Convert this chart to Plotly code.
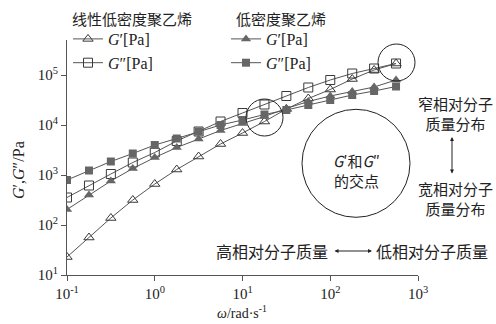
import plotly.graph_objects as go

# angular frequency (rad/s)
omega = [0.1, 0.178, 0.316, 0.562, 1.0, 1.78, 3.16, 5.62, 10.0, 17.8, 31.6, 56.2, 100.0, 178.0, 316.0, 562.0]

# log10 of moduli
lldpe_gp_log = [1.36, 1.75, 2.14, 2.50, 2.82, 3.11, 3.37, 3.62, 3.84, 4.07, 4.32, 4.53, 4.71, 4.92, 5.10, 5.23]
lldpe_gpp_log = [2.55, 2.79, 3.02, 3.25, 3.45, 3.68, 3.87, 4.07, 4.24, 4.41, 4.58, 4.75, 4.90, 5.03, 5.13, 5.23]
ldpe_gp_log = [2.31, 2.60, 2.88, 3.13, 3.35, 3.55, 3.72, 3.89, 4.03, 4.17, 4.33, 4.47, 4.58, 4.67, 4.76, 4.90]
ldpe_gpp_log = [2.90, 3.09, 3.27, 3.43, 3.60, 3.73, 3.87, 4.00, 4.10, 4.21, 4.30, 4.40, 4.50, 4.60, 4.68, 4.77]

lldpe_gp = [10 ** v for v in lldpe_gp_log]
lldpe_gpp = [10 ** v for v in lldpe_gpp_log]
ldpe_gp = [10 ** v for v in ldpe_gp_log]
ldpe_gpp = [10 ** v for v in ldpe_gpp_log]

x_tickvals = [0.1, 1, 10, 100, 1000]
x_ticktext = ["10<sup>-1</sup>", "10<sup>0</sup>", "10<sup>1</sup>", "10<sup>2</sup>", "10<sup>3</sup>"]
y_tickvals = [10, 100, 1000, 10000, 100000]
y_ticktext = ["10<sup>1</sup>", "10<sup>2</sup>", "10<sup>3</sup>", "10<sup>4</sup>", "10<sup>5</sup>"]

FONT = "Liberation Serif, Noto Sans CJK SC, serif"
CJK = "Noto Sans CJK SC, Liberation Serif, serif"
LINE = "#555555"

# plot-area pixel geometry (for placing decorations in paper coordinates)
PL, PR, PT, PB = 67, 418, 40, 275
W, H = PR - PL, PB - PT


def px(xp):
    return (xp - PL) / W


def py(yp):
    return (PB - yp) / H


fig = go.Figure()

fig.add_trace(go.Scatter(x=omega, y=lldpe_gp, mode="lines+markers", name="<i>G</i>′[Pa]",
                         line=dict(color=LINE, width=1),
                         marker=dict(symbol="triangle-up-open", size=9, color="#3a3a3a", line=dict(width=1)),
                         legend="legend"))
fig.add_trace(go.Scatter(x=omega, y=lldpe_gpp, mode="lines+markers", name="<i>G</i>″[Pa]",
                         line=dict(color=LINE, width=1),
                         marker=dict(symbol="square-open", size=9, color="#3a3a3a", line=dict(width=1)),
                         legend="legend"))
fig.add_trace(go.Scatter(x=omega, y=ldpe_gp, mode="lines+markers", name="<i>G</i>′[Pa]",
                         line=dict(color=LINE, width=1),
                         marker=dict(symbol="triangle-up", size=9, color="#666666"),
                         legend="legend2"))
fig.add_trace(go.Scatter(x=omega, y=ldpe_gpp, mode="lines+markers", name="<i>G</i>″[Pa]",
                         line=dict(color=LINE, width=1),
                         marker=dict(symbol="square", size=8, color="#666666"),
                         legend="legend2"))

shapes = []
for (cx, cy, r) in [(356, 163.3, 54), (264.5, 117.5, 18.5), (396.5, 62.5, 18.5)]:
    shapes.append(dict(type="circle", xref="paper", yref="paper",
                       x0=px(cx - r), x1=px(cx + r), y0=py(cy + r), y1=py(cy - r),
                       line=dict(color="#222222", width=1)))

annotations = []


def text(t, xp, yp, size=16, font=CJK):
    annotations.append(dict(text=t, xref="paper", yref="paper", x=px(xp), y=py(yp),
                            xanchor="center", yanchor="middle", showarrow=False,
                            font=dict(family=font, size=size, color="#222222")))


text("线性低密度聚乙烯", 132, 19, 15)
text("低密度聚乙烯", 281, 19, 15)
text("<i>G</i>′和<i>G</i>″<br>的交点", 356, 170.5, 15)
text("窄相对分子<br>质量分布", 455, 113.5, 15)
text("宽相对分子<br>质量分布", 455, 198.5, 15)
text("高相对分子质量", 272, 251)
text("低相对分子质量", 432, 251)

# double-headed arrows
annotations.append(dict(xref="paper", yref="paper", x=px(452), y=py(137), ax=0, ay=38,
                        text="", showarrow=True, arrowhead=2, startarrowhead=2, arrowside="end+start",
                        arrowsize=0.8, arrowwidth=1, arrowcolor="#222222"))
annotations.append(dict(xref="paper", yref="paper", x=px(372), y=py(251), ax=-39, ay=0,
                        text="", showarrow=True, arrowhead=2, startarrowhead=2, arrowside="end+start",
                        arrowsize=0.8, arrowwidth=1, arrowcolor="#222222"))

# axis titles
annotations.append(dict(text="<i>G</i>′,<i>G</i>″/Pa", xref="paper", yref="paper", x=px(18), y=py(170),
                        textangle=-90, showarrow=False, xanchor="center", yanchor="middle",
                        font=dict(family=FONT, size=16, color="#222222")))
annotations.append(dict(text="<i>ω</i>/rad·s<sup>-1</sup>", xref="paper", yref="paper", x=px(242), y=py(312),
                        showarrow=False, xanchor="center", yanchor="middle",
                        font=dict(family=FONT, size=14, color="#222222")))

axis_common = dict(showgrid=False, zeroline=False, showline=True, linecolor=LINE, linewidth=1,
                   ticks="outside", ticklen=5, tickcolor=LINE, mirror=False,
                   tickfont=dict(family=FONT, size=15, color="#222222"))

fig.update_layout(
    width=496, height=324,
    margin=dict(l=PL, r=496 - PR, t=PT, b=324 - PB),
    paper_bgcolor="white", plot_bgcolor="white",
    font=dict(family=FONT, color="#222222"),
    xaxis=dict(type="log", range=[-1, 3], tickvals=x_tickvals, ticktext=x_ticktext, **axis_common),
    yaxis=dict(type="log", range=[1, 5.7], tickvals=y_tickvals, ticktext=y_ticktext, **axis_common),
    legend=dict(x=px(68), y=py(22), xanchor="left", yanchor="top", bgcolor="rgba(0,0,0,0)",
                font=dict(family=FONT, size=16), tracegroupgap=0, itemwidth=30),
    legend2=dict(x=px(226), y=py(22), xanchor="left", yanchor="top", bgcolor="rgba(0,0,0,0)",
                 font=dict(family=FONT, size=16), tracegroupgap=0, itemwidth=30),
    shapes=shapes,
    annotations=annotations,
)

fig.write_html("out.html", config={"displayModeBar": False},
               post_script="document.body.style.margin='0';document.body.style.padding='0';"
                           "document.body.style.overflow='hidden';")
